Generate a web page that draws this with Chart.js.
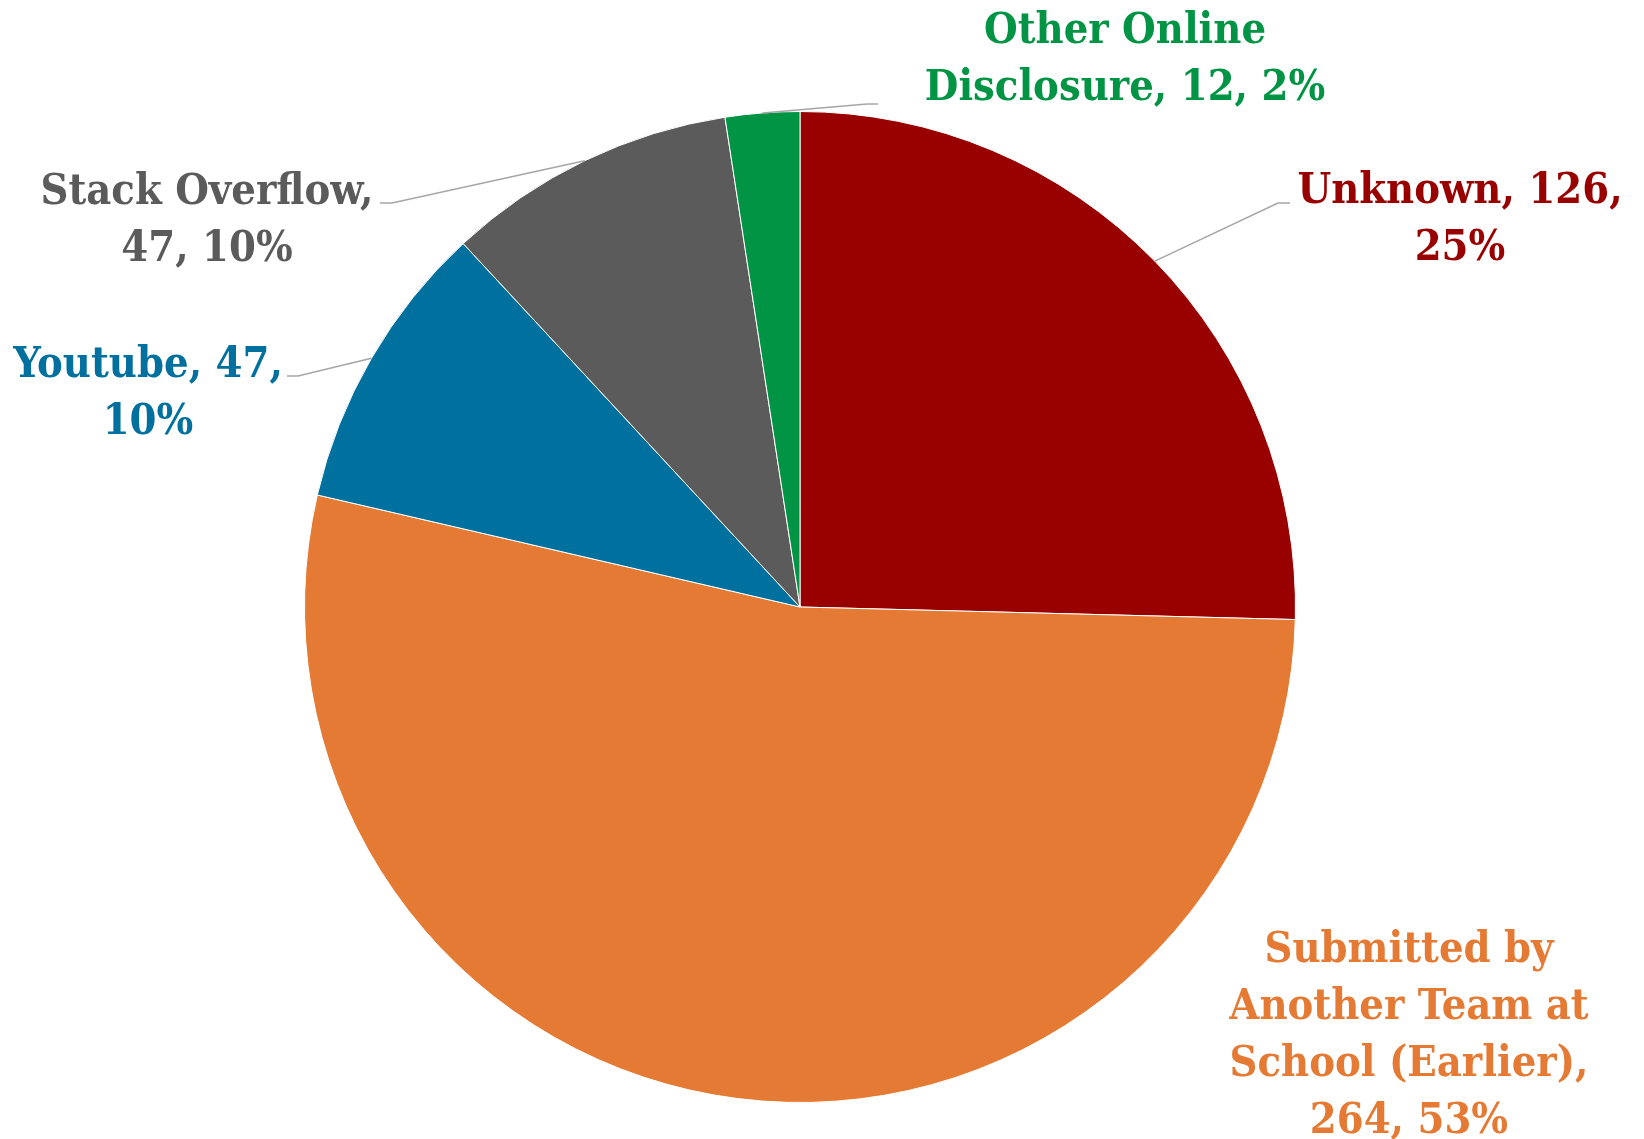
<!DOCTYPE html>
<html lang="en">
<head>
    <meta charset="UTF-8">
    <title>Source of Submissions</title>
    <style>
        body { margin: 0; background: #ffffff; }
        .wrap { width: 1644px; height: 1139px; position: relative; }
    </style>
</head>
<body>
    <div class="wrap">
        <canvas id="pieChart" width="1644" height="1139"></canvas>
    </div>

    <script src="https://cdn.jsdelivr.net/npm/chart.js"></script>
    <script>
        // Data
        const categories = ['Unknown', 'Submitted by Another Team at School (Earlier)', 'Youtube', 'Stack Overflow', 'Other Online Disclosure'];
        const counts = [126, 264, 47, 47, 12];
        const sliceColors = ['#990000', '#E47A33', '#00709F', '#5A5B5A', '#009444'];

        // Where each data label sits (center x, first baseline) and how its words wrap
        const labelPlace = [
            { x: 1460, y: 203, words: [2, 1], leader: [[1278, 203], [1290, 203]] },
            { x: 1409, y: 962, words: [2, 3, 2, 2], leader: null },
            { x: 148, y: 377, words: [2, 1], leader: [[298, 376], [287, 376]] },
            { x: 207, y: 204, words: [2, 2], leader: [[392, 203], [380, 203]] },
            { x: 1125, y: 43, words: [2, 3], leader: [[867, 104], [878, 104]] }
        ];
        const lineGap = 57;
        const labelFont = 'bold 43px "DejaVu Serif Condensed", "DejaVu Serif", serif';

        const total = counts.reduce((a, b) => a + b, 0);

        // whole percentages that add up to 100 (largest remainder, like Excel)
        function wholePercents() {
            const raw = counts.map(v => v / total * 100);
            const out = raw.map(Math.floor);
            let left = 100 - out.reduce((a, b) => a + b, 0);
            const order = raw.map((v, i) => i).sort((a, b) => (raw[b] - out[b]) - (raw[a] - out[a]));
            for (let k = 0; k < left; k++) out[order[k]] += 1;
            return out;
        }
        const percents = wholePercents();

        function labelLines(i) {
            const words = (categories[i] + ', ' + counts[i] + ', ' + percents[i] + '%').split(' ');
            const lines = [];
            let k = 0;
            labelPlace[i].words.forEach(n => {
                lines.push(words.slice(k, k + n).join(' '));
                k += n;
            });
            return lines;
        }

        // Draws Excel-style data labels with leader lines
        const pieLabels = {
            id: 'pieLabels',
            afterDatasetsDraw(chart) {
                const ctx = chart.ctx;
                const arcs = chart.getDatasetMeta(0).data;
                ctx.save();
                arcs.forEach((arc, i) => {
                    const place = labelPlace[i];
                    if (place.leader) {
                        const mid = (arc.startAngle + arc.endAngle) / 2;
                        const ax = arc.x + Math.cos(mid) * arc.outerRadius;
                        const ay = arc.y + Math.sin(mid) * arc.outerRadius;
                        ctx.beginPath();
                        ctx.moveTo(ax, ay);
                        place.leader.forEach(p => ctx.lineTo(p[0], p[1]));
                        ctx.strokeStyle = '#A6A6A6';
                        ctx.lineWidth = 1.5;
                        ctx.stroke();
                    }
                    ctx.font = labelFont;
                    ctx.fillStyle = sliceColors[i];
                    ctx.textAlign = 'center';
                    ctx.textBaseline = 'alphabetic';
                    labelLines(i).forEach((line, j) => {
                        ctx.fillText(line, place.x, place.y + j * lineGap);
                    });
                });
                ctx.restore();
            }
        };

        new Chart(document.getElementById('pieChart'), {
            type: 'pie',
            data: {
                labels: categories,
                datasets: [{
                    data: counts,
                    backgroundColor: sliceColors,
                    borderColor: '#ffffff',
                    borderWidth: 1
                }]
            },
            options: {
                responsive: false,
                animation: false,
                layout: { padding: { top: 111, bottom: 36, left: 304, right: 348 } },
                plugins: {
                    legend: { display: false },
                    tooltip: { enabled: false }
                }
            },
            plugins: [pieLabels]
        });
    </script>
</body>
</html>
